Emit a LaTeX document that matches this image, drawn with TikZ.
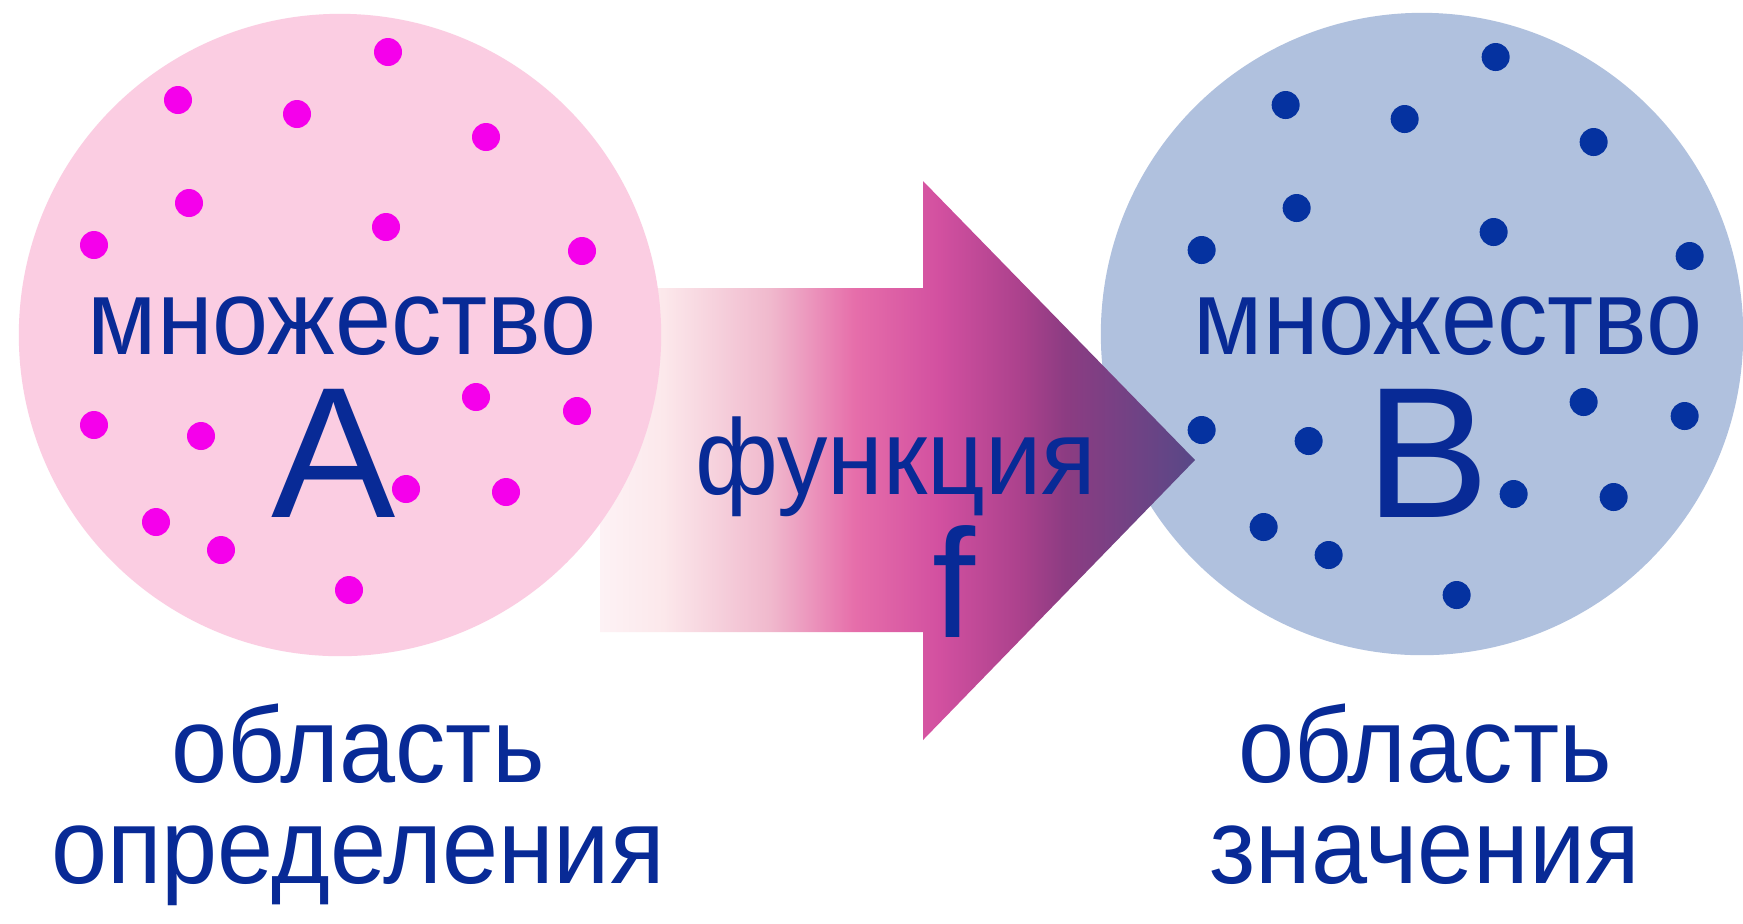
\documentclass[tikz,border=0pt]{standalone}
\usepackage{fontspec}
\setmainfont{Liberation Sans}
\newfontfamily\wordfont{Liberation Sans}[Script=Cyrillic, FakeStretch=0.94]
\usepackage{tikz}

\definecolor{setblue}{RGB}{8,42,150}
\definecolor{pinkset}{RGB}{251,205,226}
\definecolor{blueset}{RGB}{176,193,222}
\definecolor{pinkdot}{RGB}{245,0,235}
\definecolor{bluedot}{RGB}{5,50,160}

\pgfdeclarehorizontalshading{funcshade}{100bp}{%
  rgb(0bp)=(0.992,0.949,0.961); rgb(25bp)=(0.992,0.949,0.961);
  rgb(30.3bp)=(0.988,0.91,0.922); rgb(39.3bp)=(0.941,0.725,0.804);
  rgb(46.4bp)=(0.902,0.431,0.667); rgb(53.5bp)=(0.824,0.314,0.627);
  rgb(60.5bp)=(0.667,0.255,0.549); rgb(64.1bp)=(0.549,0.235,0.51);
  rgb(75bp)=(0.345,0.282,0.529); rgb(100bp)=(0.345,0.282,0.529)}

\tikzset{setdisk/.style = {circle, minimum size=6.42cm, inner sep=0pt},
         word/.style = {text=setblue, inner sep=0pt, anchor=base,
                        font=\wordfont\fontsize{30.5}{28.5}\selectfont},
         letter/.style = {word, font=\fontsize{53}{60}\selectfont},
         fletter/.style = {word, font=\fontsize{44}{50}\selectfont}}

% the same scatter of points in both sets
\newcommand{\setdots}[1]{%
  \foreach \x/\y in {388/52, 178/100, 297/114, 486/137, 189/203, 386/227,
                     94/245, 582/251, 476/397, 577/411, 94/425, 201/436,
                     406/489, 506/492, 156/522, 221/550, 349/590}
    \fill[#1] (\x,\y) circle (14);}

\begin{document}
\begin{tikzpicture}[x=0.01cm, y=-0.01cm]
        \useasboundingbox (0,0) rectangle (1743,923);
        \fill[white] (0,0) rectangle (1743,923);

        % set B
        \node [setdisk, fill=blueset] (setB) at (1422,334) {};
        \begin{scope}[xshift=11.07cm, yshift=-0.05cm]
            \setdots{bluedot}
        \end{scope}
        \node [word] (nameB) at (1448,354) {множество};
        \node [letter] (B) at (1428,517) {B};

        % the function arrow
        \shade [shading=funcshade] (600,288) -- (923,288) -- (923,181) -- (1195,460)
            -- (923,740) -- (923,632) -- (600,632) -- cycle;

        % set A
        \node [setdisk, fill=pinkset] (setA) at (340,335) {};
        \setdots{pinkdot}
        \node [word] (nameA) at (342,354) {множество};
        \node [letter] (A) at (334,517) {A};

        \node [word] (func) at (896,494) {функция};
        \node [fletter] (f) at (954,637) {f};

        \node [word, align=center] (domA) at (358,883) {область\\определения};
        \node [word, align=center] (ranB) at (1425,883) {область\\значения};
    \end{tikzpicture}
\end{document}
